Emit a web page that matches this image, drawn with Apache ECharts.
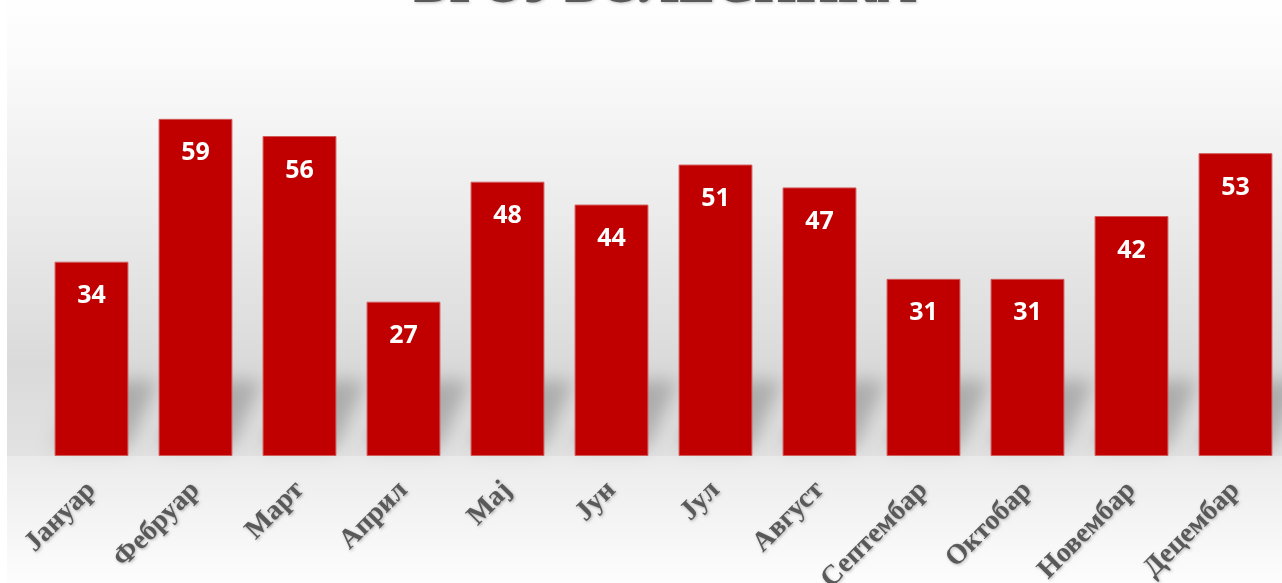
<!DOCTYPE html>
<html>
<head>
<meta charset="utf-8">
<title>Број болесника</title>
<script src="https://cdn.jsdelivr.net/npm/echarts@6/dist/echarts.min.js"></script>
<style>
  html, body { margin: 0; padding: 0; background: #ffffff; }
  #chart { width: 1282px; height: 583px; }
</style>
</head>
<body>
<div id="chart"></div>
<script>
// Months (Serbian Cyrillic) and number of patients per month
const months = ['Јануар', 'Фебруар', 'Март', 'Април', 'Мај', 'Јун', 'Јул', 'Август', 'Септембар', 'Октобар', 'Новембар', 'Децембар'];
const patients = [34, 59, 56, 27, 48, 44, 51, 47, 31, 31, 42, 53];
const titleText = 'БРОЈ БОЛЕСНИКА';

const chart = echarts.init(document.getElementById('chart'), null, { renderer: 'canvas' });

// Soft floor shadow cast up-right behind the foot of each bar
function renderFootShadow(params, api) {
  const base = api.coord([api.value(0), 0]);
  const bw = api.size([1, 0])[0] * 0.71;
  const x0 = base[0] - bw / 2;
  const x1 = base[0] + bw / 2;
  const y0 = base[1] - 8;
  const y1 = base[1] - 76;
  const off = 3000; // shape sits off-canvas, only its blurred shadow lands here
  return {
    type: 'polygon',
    shape: {
      points: [[x0 - off, y0], [x1 - off, y0], [x1 + 30 - off, y1], [x0 + 30 - off, y1]]
    },
    style: {
      fill: '#000',
      shadowColor: 'rgba(0,0,0,0.22)',
      shadowBlur: 18,
      shadowOffsetX: off,
      shadowOffsetY: 0
    },
    silent: true
  };
}

const option = {
  animation: false,
  backgroundColor: '#ffffff',
  title: {
    text: titleText,
    left: 660,
    textAlign: 'center',
    top: -44,
    textStyle: {
      fontFamily: 'Liberation Serif',
      fontWeight: 'bold',
      fontSize: 54,
      color: '#595959',
      textShadowColor: 'rgba(0,0,0,0.25)',
      textShadowBlur: 3,
      textShadowOffsetX: 1,
      textShadowOffsetY: 1
    }
  },
  graphic: [
    {
      type: 'rect', z: -10, silent: true,
      shape: { x: 7, y: 0, width: 1275, height: 456 },
      style: {
        fill: new echarts.graphic.LinearGradient(0, 0, 0, 1, [
          { offset: 0, color: '#fefefe' },
          { offset: 0.12, color: '#fbfbfb' },
          { offset: 0.45, color: '#ececec' },
          { offset: 0.8, color: '#dadada' },
          { offset: 1, color: '#e2e2e2' }
        ])
      }
    },
    {
      type: 'rect', z: -10, silent: true,
      shape: { x: 7, y: 456, width: 1275, height: 127 },
      style: {
        fill: new echarts.graphic.LinearGradient(0, 0, 0, 1, [
          { offset: 0, color: '#ebebeb' },
          { offset: 0.5, color: '#f4f4f4' },
          { offset: 1, color: '#fdfdfd' }
        ])
      }
    }
  ],
  grid: {
    left: 39.5,
    width: 1248,
    top: 56,
    height: 400,
    containLabel: false,
    outerBoundsMode: 'none'
  },
  xAxis: {
    type: 'category',
    data: months,
    axisLine: { show: false },
    axisTick: { show: false },
    axisLabel: {
      interval: 0,
      rotate: 45,
      margin: 30,
      fontFamily: 'Liberation Serif',
      fontWeight: 'bold',
      fontSize: 28,
      color: '#595959',
      textShadowColor: 'rgba(0,0,0,0.3)',
      textShadowBlur: 3,
      textShadowOffsetX: 1,
      textShadowOffsetY: 1
    }
  },
  yAxis: {
    type: 'value',
    min: 0,
    max: 70,
    interval: 10,
    show: false,
    splitLine: { show: false }
  },
  series: [
    {
      type: 'custom',
      z: 1,
      clip: false,
      renderItem: renderFootShadow,
      data: patients.map((v, i) => [i, v])
    },
    {
      type: 'bar',
      z: 3,
      data: patients,
      barWidth: '71%',
      itemStyle: {
        color: '#c00000',
        borderColor: '#d25a5a',
        borderWidth: 1
      },
      label: {
        show: true,
        position: 'insideTop',
        distance: 22,
        fontFamily: 'Open Sans',
        fontWeight: 'bold',
        fontSize: 25,
        color: '#ffffff'
      }
    }
  ]
};

chart.setOption(option);
</script>
</body>
</html>
